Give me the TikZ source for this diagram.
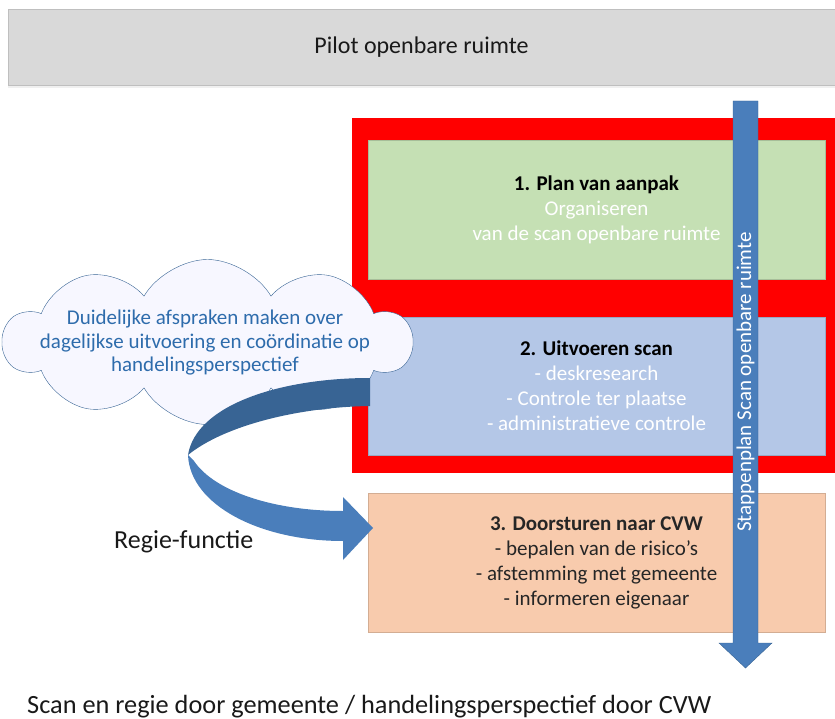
\documentclass[tikz,border=0pt]{standalone}
\usepackage{fontspec}
\setmainfont{Carlito}
\usetikzlibrary{shapes.symbols,shadows}
\definecolor{pilotgray}{RGB}{217,217,217}
\definecolor{framered}{RGB}{255,0,0}
\definecolor{plangreen}{RGB}{197,224,180}
\definecolor{scanblue}{RGB}{180,199,231}
\definecolor{cvworange}{RGB}{248,203,173}
\definecolor{arrowblue}{RGB}{74,126,187}
\definecolor{arrowdark}{RGB}{56,100,148}
\definecolor{cloudtext}{RGB}{46,108,172}
\begin{document}
\begin{tikzpicture}[x=1pt,y=-1pt,
		stepbox/.style={draw=#1!85!black,very thin,fill=#1,minimum width=457,minimum height=139,
			inner sep=0,align=center,font=\fontsize{21}{25}\selectfont}]
	\useasboundingbox (0,0) rectangle (835,719);

	%draw the top bar
	\node[draw=black!25,fill=pilotgray,minimum width=827,minimum height=76,inner sep=0,
		drop shadow={opacity=0.12,shadow xshift=0pt,shadow yshift=-3pt},
		font=\fontsize{24}{28}\selectfont,text=black!90] (pilot) at (421.5,47) {Pilot openbare ruimte};

	%draw the red frame and the three steps
	\fill[framered] (352,118) rectangle (835,473);
	\node[stepbox=plangreen,text=white] (plan) at (596.5,210)
		{\textcolor{black}{\textbf{1. Plan van aanpak}}\\Organiseren\\van de scan openbare ruimte};
	\node[stepbox=scanblue,text=white,minimum height=138] (scan) at (596.5,386)
		{\textcolor{black}{\textbf{2. Uitvoeren scan}}\\- deskresearch\\- Controle ter plaatse\\- administratieve controle};
	\node[stepbox=cvworange,text=black!85] (cvw) at (596.5,562.5)
		{\textbf{3. Doorsturen naar CVW}\\- bepalen van de risico's\\- afstemming met gemeente\\- informeren eigenaar};

	%draw the cloud
	\node[cloud,cloud puffs=10,cloud puff arc=120,cloud ignores aspect,draw=arrowdark,thin,
		fill=blue!3,minimum width=408,minimum height=165] (cloud) at (207.5,342) {};
	\node[text=cloudtext,align=center,font=\fontsize{21}{23.5}\selectfont] (afspraken) at (205,343)
		{Duidelijke afspraken maken over\\dagelijkse uitvoering en coördinatie op\\handelingsperspectief};

	%draw the curved arrow
	\fill[arrowdark] (370,378) .. controls (280,378) and (196,405) .. (188,455)
		.. controls (225,425) and (300,407) .. (370,406) -- cycle;
	\fill[arrowblue] (188,455) .. controls (190,505) and (260,541) .. (343,541)
		-- (343,560) -- (373,528) -- (343,497) -- (343,511)
		.. controls (275,511) and (215,492) .. (194,461) -- cycle;

	%draw the vertical arrow
	\filldraw[fill=arrowblue,draw=arrowdark,thin] (733,101) -- (758,101) -- (758,643) -- (772,643)
		-- (745.5,668) -- (719,643) -- (733,643) -- cycle;
	\node[rotate=90,text=white,font=\fontsize{21}{25}\selectfont] (stappen) at (745.5,382)
		{Stappenplan Scan openbare ruimte};

	%labels
	\node[anchor=base west,inner sep=0,font=\fontsize{26}{30}\selectfont,text=black!90] (regie) at (114,548) {Regie-functie};
	\node[anchor=base west,inner sep=0,font=\fontsize{26.3}{30}\selectfont,text=black!90] (caption) at (27,713)
		{Scan en regie door gemeente / handelingsperspectief door CVW};
\end{tikzpicture}
\end{document}
